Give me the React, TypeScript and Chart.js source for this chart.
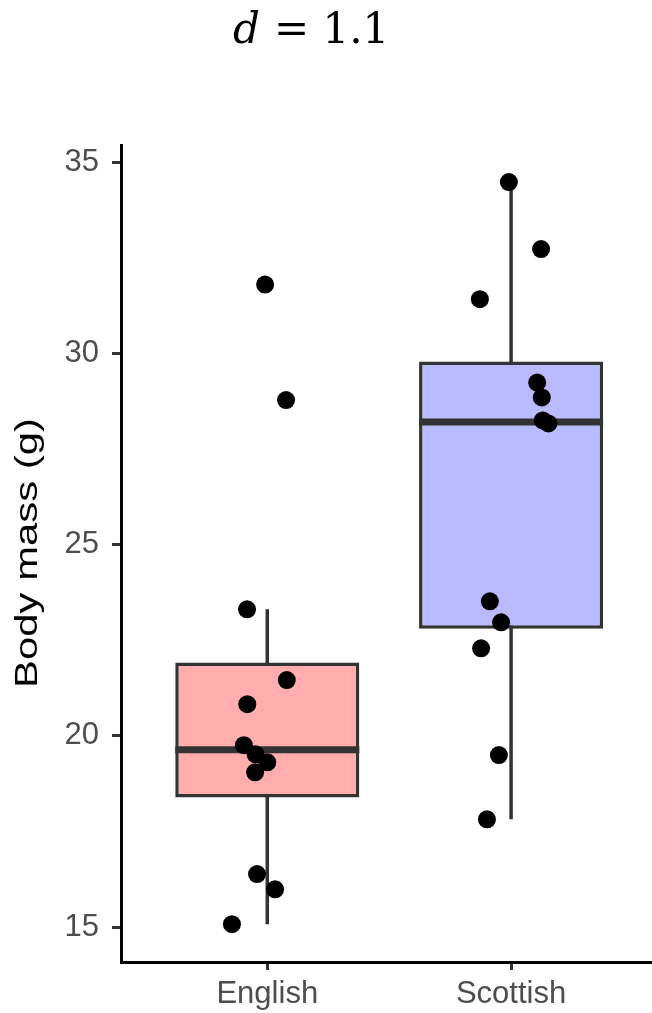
import React, { useEffect, useRef } from 'react';
import { Chart, registerables } from 'chart.js';

Chart.register(...registerables);

// ---- data ----
const categories = ['English', 'Scottish'];
const groupFill = ['#FFADAD', '#BABAFF'];
const q1 = [18.39, 22.8];
const medians = [19.64, 28.21];
const q3 = [21.92, 29.79];
const whiskerLow = [15.08, 17.82];
const whiskerHigh = [23.31, 34.48];

const englishMass = [31.8, 28.78, 23.31, 21.46, 20.83, 19.76, 19.52, 19.31, 19.05, 16.39, 15.99, 15.08];
const englishJitter = [-0.009, 0.077, -0.083, 0.08, -0.082, -0.096, -0.048, 0.0, -0.05, -0.042, 0.032, -0.145];
const scottishMass = [34.48, 32.73, 31.42, 29.24, 28.85, 28.25, 28.17, 23.52, 22.97, 22.29, 19.5, 17.82];
const scottishJitter = [-0.009, 0.123, -0.128, 0.107, 0.126, 0.13, 0.153, -0.087, -0.041, -0.123, -0.05, -0.099];

const yTicks = [15, 20, 25, 30, 35];
const yTitle = 'Body mass (g)';
const titleVar = 'd';
const titleRest = '= 1.1';

const BOX_WIDTH = 0.755;

const textPlugin = {
  id: 'extraTexts',
  afterDraw(chart: any) {
    const ctx = chart.ctx;
    ctx.save();
    ctx.fillStyle = '#000000';
    ctx.textBaseline = 'alphabetic';
    ctx.textAlign = 'left';
    ctx.font = 'italic 42px "DejaVu Serif"';
    ctx.fillText(titleVar, 233, 43);
    ctx.font = '42px "DejaVu Serif"';
    ctx.fillText(titleRest, 274, 43);
    ctx.restore();

    ctx.save();
    ctx.fillStyle = '#000000';
    ctx.font = '31px "Liberation Sans", Arial, sans-serif';
    ctx.textAlign = 'center';
    ctx.textBaseline = 'alphabetic';
    ctx.translate(37, 553);
    ctx.rotate(-Math.PI / 2);
    ctx.scale(1.35, 1);
    ctx.fillText(yTitle, 0, 0);
    ctx.restore();
  },
};

export default function App() {
  const ref = useRef<HTMLCanvasElement | null>(null);

  useEffect(() => {
    if (!ref.current) return;

    const whiskerSets = categories.map((c, i) => ({
      type: 'line' as const,
      label: c + ' whisker',
      data: [
        { x: i + 1, y: whiskerLow[i] },
        { x: i + 1, y: whiskerHigh[i] },
      ],
      borderColor: '#333333',
      borderWidth: 3.5,
      pointRadius: 0,
      borderCapStyle: 'butt' as const,
      order: 4,
    }));

    const boxSet = {
      type: 'bar' as const,
      label: 'box',
      data: categories.map((c, i) => ({ x: i + 1, y: [q1[i], q3[i]] })),
      backgroundColor: groupFill,
      borderColor: '#333333',
      borderWidth: 3.5,
      borderSkipped: false,
      barPercentage: BOX_WIDTH,
      categoryPercentage: 1,
      order: 3,
    };

    const medianSets = categories.map((c, i) => ({
      type: 'line' as const,
      label: c + ' median',
      data: [
        { x: i + 1 - BOX_WIDTH / 2, y: medians[i] },
        { x: i + 1 + BOX_WIDTH / 2, y: medians[i] },
      ],
      borderColor: '#333333',
      borderWidth: 7,
      pointRadius: 0,
      borderCapStyle: 'butt' as const,
      order: 2,
    }));

    const groups = [
      { mass: englishMass, jitter: englishJitter },
      { mass: scottishMass, jitter: scottishJitter },
    ];
    const pointSets = groups.map((g, i) => ({
      type: 'scatter' as const,
      label: categories[i] + ' points',
      data: g.mass.map((m, k) => ({ x: i + 1 + g.jitter[k], y: m })),
      backgroundColor: '#000000',
      borderWidth: 0,
      pointRadius: 9,
      order: 1,
    }));

    const chart = new Chart(ref.current, {
      type: 'scatter',
      data: {
        datasets: [...pointSets, ...medianSets, boxSet, ...whiskerSets] as any,
      },
      options: {
        animation: false,
        responsive: false,
        devicePixelRatio: 1,
        layout: { autoPadding: false, padding: { top: 145, left: 0, right: 0, bottom: 0 } },
        plugins: {
          legend: { display: false },
          tooltip: { enabled: false },
          title: { display: false },
        },
        scales: {
          x: {
            type: 'linear',
            min: 0.4,
            max: 2.578,
            offset: false,
            afterBuildTicks: (scale: any) => {
              scale.ticks = categories.map((c, i) => ({ value: i + 1 }));
            },
            afterFit: (scale: any) => {
              scale.height = 51;
              scale.paddingLeft = 0;
              scale.paddingRight = 0;
            },
            grid: {
              offset: false,
              drawOnChartArea: false,
              drawTicks: true,
              tickLength: 8,
              color: '#333333',
              lineWidth: 3,
            },
            border: { display: true, color: '#000000', width: 3 },
            ticks: {
              autoSkip: false,
              maxRotation: 0,
              padding: 6,
              color: '#4D4D4D',
              font: { family: '"Liberation Sans", Arial, sans-serif', size: 31 },
              callback: (v: any) => categories[Math.round(Number(v)) - 1] ?? '',
            },
          },
          y: {
            type: 'linear',
            min: 14.09,
            max: 35.45,
            afterBuildTicks: (scale: any) => {
              scale.ticks = yTicks.map((v) => ({ value: v }));
            },
            afterFit: (scale: any) => {
              scale.width = 121;
              scale.paddingTop = 0;
              scale.paddingBottom = 0;
            },
            grid: {
              drawOnChartArea: false,
              drawTicks: true,
              tickLength: 9,
              color: '#333333',
              lineWidth: 3,
            },
            border: { display: true, color: '#000000', width: 3 },
            ticks: {
              padding: 13,
              color: '#4D4D4D',
              font: { family: '"Liberation Sans", Arial, sans-serif', size: 31 },
              callback: (v: any) => String(v),
            },
          },
        },
      } as any,
      plugins: [textPlugin],
    });

    return () => {
      chart.destroy();
    };
  }, []);

  return (
    <div style={{ position: 'absolute', left: 0, top: 0, width: 652, height: 1013, background: '#ffffff' }}>
      <canvas ref={ref} width={652} height={1013} style={{ display: 'block', width: 652, height: 1013 }} />
    </div>
  );
}
